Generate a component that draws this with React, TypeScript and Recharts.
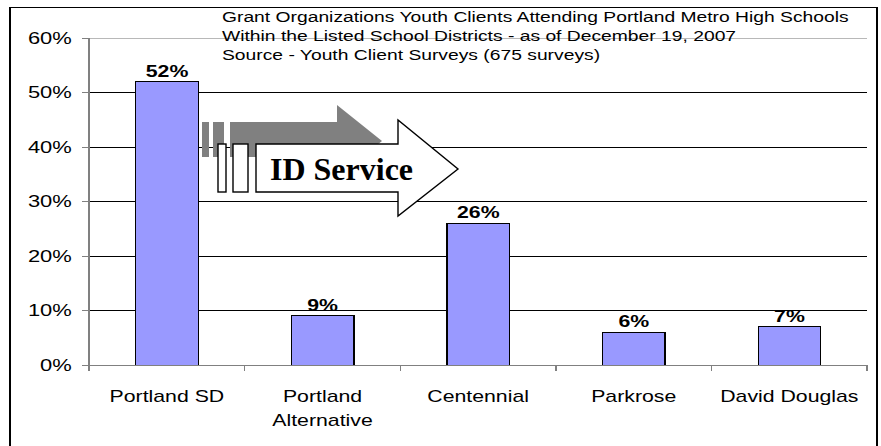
import React from 'react';
import { BarChart, Bar, XAxis, YAxis, CartesianGrid, LabelList, ReferenceLine } from 'recharts';

const categories = ['Portland SD', 'Portland\nAlternative', 'Centennial', 'Parkrose', 'David Douglas'];
const shares = [0.52, 0.09, 0.26, 0.06, 0.07];
const yTicks = [0, 0.1, 0.2, 0.3, 0.4, 0.5, 0.6];
const titleLines = [
  'Grant Organizations Youth Clients Attending Portland Metro High Schools',
  'Within the Listed School Districts - as of December 19, 2007',
  'Source - Youth Client Surveys (675 surveys)',
];
const arrowLabel = 'ID Service';

const data = categories.map((name, i) => ({ name, value: shares[i] }));

const PAGE_W = 881;
const PAGE_H = 446;
const SX = 1.33;
const CHART_W = Math.round(PAGE_W / SX);
const FONT = '"Liberation Sans", Arial, Helvetica, sans-serif';
const SERIF = '"Liberation Serif", "Times New Roman", serif';

const pct = (v: number) => `${Math.round(v * 100)}%`;

const XTick = (props: any) => {
  const { x, y, payload, index, visibleTicksCount, width } = props;
  const band = (width ?? 585) / (visibleTicksCount ?? categories.length);
  const lines = String(payload.value).split('\n');
  const left = x - band / 2;
  const right = x + band / 2;
  return (
    <g>
      <line x1={left} x2={left} y1={y} y2={y + 6} stroke="#808080" strokeWidth={1} />
      {index === (visibleTicksCount ?? categories.length) - 1 && (
        <line x1={right} x2={right} y1={y} y2={y + 6} stroke="#808080" strokeWidth={1} />
      )}
      <text x={x} y={y + 37} textAnchor="middle" fontFamily={FONT} fontSize={16} fill="#000">
        {lines.map((l, i) => (
          <tspan key={i} x={x} dy={i === 0 ? 0 : 24}>
            {l}
          </tspan>
        ))}
      </text>
    </g>
  );
};

export default function App() {
  return (
    <div style={{ position: 'absolute', left: 0, top: 0, width: PAGE_W, height: PAGE_H, background: '#fff', overflow: 'hidden' }}>
      <div
        style={{
          position: 'absolute',
          left: 0,
          top: 0,
          transform: `scaleX(${SX})`,
          transformOrigin: '0 0',
          shapeRendering: 'crispEdges',
        }}
      >
        <BarChart
          width={CHART_W}
          height={PAGE_H}
          data={data}
          margin={{ top: 38, right: 10, bottom: 0, left: 0 }}
          barCategoryGap="30%"
        >
          <CartesianGrid vertical={false} stroke="#000" strokeWidth={1} />
          <ReferenceLine y={0.6} stroke="#b8b8b8" strokeWidth={1} />
          <XAxis
            dataKey="name"
            height={81}
            interval={0}
            tickSize={0}
            tickMargin={0}
            tickLine={false}
            axisLine={{ stroke: '#808080', strokeWidth: 1 }}
            tick={<XTick />}
          />
          <YAxis
            width={67}
            domain={[0, 0.6]}
            ticks={yTicks}
            interval={0}
            tickFormatter={pct}
            tickSize={5}
            tickMargin={8}
            axisLine={{ stroke: '#808080', strokeWidth: 1 }}
            tickLine={{ stroke: '#808080', strokeWidth: 1 }}
            tick={{ fill: '#000', fontSize: 16.5, fontFamily: FONT }}
          />
          <Bar dataKey="value" fill="#9999FF" stroke="#000" strokeWidth={1} isAnimationActive={false}>
            <LabelList
              dataKey="value"
              position="top"
              offset={5}
              formatter={(v: any) => pct(Number(v))}
              style={{ fill: '#000', fontWeight: 'bold', fontSize: 16, fontFamily: FONT }}
            />
          </Bar>
        </BarChart>
      </div>
      <svg
        width={PAGE_W}
        height={PAGE_H}
        style={{ position: 'absolute', left: 0, top: 0, pointerEvents: 'none' }}
      >
        {/* outer frame */}
        <line x1={9} x2={878} y1={7.5} y2={7.5} stroke="#000" strokeWidth={1} />
        <line x1={10} x2={10} y1={7} y2={PAGE_H + 2} stroke="#000" strokeWidth={2} />
        <line x1={877} x2={877} y1={7} y2={PAGE_H + 2} stroke="#000" strokeWidth={2} />
        {/* title */}
        <g transform={`translate(222 0) scale(${SX} 1)`}>
          {titleLines.map((t, i) => (
            <text key={i} x={0} y={22 + i * 19} fontFamily={FONT} fontSize={14.5} fill="#000">
              {t}
            </text>
          ))}
        </g>
        {/* grey shadow arrow */}
        <g fill="#808080" stroke="none">
          <rect x={202} y={122} width={7} height={35} />
          <rect x={213} y={122} width={11} height={35} />
          <polygon points="230,122 337,122 337,105 382,141 337,177 337,157 230,157" />
        </g>
        {/* white arrow */}
        <g fill="#fff" stroke="#000" strokeWidth={1.4}>
          <rect x={218} y={144} width={8} height={48} />
          <rect x={233} y={144} width={15} height={48} />
          <polygon points="256,144 398,144 398,120 458,169 398,216 398,192 256,192" />
        </g>
        <text x={270} y={180} fontFamily={SERIF} fontWeight="bold" fontSize={32} fill="#000">
          {arrowLabel}
        </text>
      </svg>
    </div>
  );
}
